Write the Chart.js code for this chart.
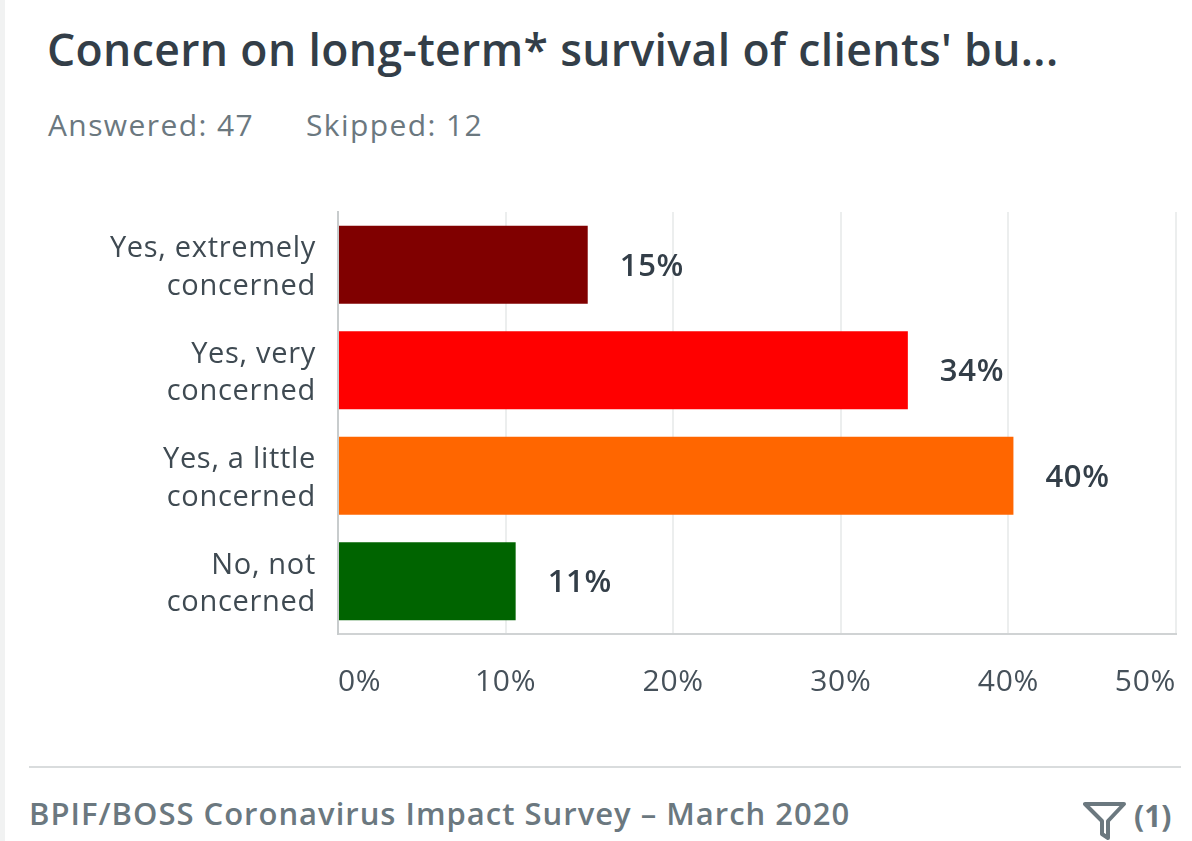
<!DOCTYPE html>
<html lang="en">
<head>
<meta charset="UTF-8">
<title>Concern on long-term survival</title>
<style>
    html, body { margin: 0; padding: 0; background: #fff; }
    body { width: 1192px; height: 841px; position: relative; overflow: hidden; font-family: 'Open Sans', 'Noto Sans', sans-serif; }
    .edge { position: absolute; left: 0; top: 0; width: 5px; height: 841px; background: #f1f2f2; }
    h1 { position: absolute; left: 47px; top: 21px; margin: 0; font-size: 44.5px; line-height: 56px; font-weight: 600; color: #333e48; white-space: nowrap; letter-spacing: 0.37px; }
    .meta { position: absolute; top: 105px; font-size: 30px; line-height: 40px; color: #6b787f; white-space: nowrap; letter-spacing: 1.4px; }
    .rule { position: absolute; left: 29px; top: 766px; width: 1152px; height: 2px; background: #d9dcdd; }
    .foot { position: absolute; left: 29px; top: 792px; font-size: 31px; line-height: 42px; font-weight: 600; color: #6b787f; white-space: nowrap; letter-spacing: 1px; }
    .filter { position: absolute; left: 1134px; top: 796px; font-size: 30px; line-height: 40px; font-weight: 700; color: #6b787f; }
    svg { position: absolute; left: 1083px; top: 801px; }
    .wrap { position: absolute; left: 0; top: 210px; width: 1192px; height: 514px; }
</style>
<script src="https://cdn.jsdelivr.net/npm/chart.js"></script>
</head>
<body>
<div class="edge"></div>
<h1>Concern on long-term* survival of clients' bu...</h1>
<div class="meta" style="left:48px">Answered: 47</div>
<div class="meta" style="left:306px">Skipped: 12</div>
<div class="wrap"><canvas id="chart" width="1192" height="514"></canvas></div>
<div class="rule"></div>
<div class="foot">BPIF/BOSS Coronavirus Impact Survey – March 2020</div>
<svg width="44" height="39" viewBox="0 0 44 39"><path d="M2 3 H41 L25 20 V37 L19 33 V20 Z" fill="none" stroke="#6b787f" stroke-width="4" stroke-linejoin="round"/></svg>
<div class="filter">(1)</div>
<script>
// values
const categories = [['Yes, extremely', 'concerned'], ['Yes, very', 'concerned'], ['Yes, a little', 'concerned'], ['No, not', 'concerned']];
const percents = [14.9, 34.0, 40.3, 10.6];
const percentLabels = ['15%', '34%', '40%', '11%'];
const barColors = ['#800000', '#ff0000', '#ff6600', '#006400'];
const tickValues = [0, 10, 20, 30, 40, 50];

// draws the % next to each bar
const barLabels = {
    id: 'barLabels',
    beforeDraw(chart) {
        chart.ctx.letterSpacing = '0.7px';
    },
    afterDatasetsDraw(chart) {
        const ctx = chart.ctx;
        ctx.save();
        ctx.font = "600 31px 'Open Sans'";
        ctx.fillStyle = '#333e48';
        ctx.textBaseline = 'middle';
        chart.getDatasetMeta(0).data.forEach((bar, i) => {
            ctx.fillText(percentLabels[i], bar.x + 32, bar.y + 2);
        });
        ctx.restore();
    }
};

new Chart(document.getElementById('chart'), {
    type: 'bar',
    data: {
        labels: categories,
        datasets: [{
            data: percents,
            backgroundColor: barColors,
            barPercentage: 0.74,
            categoryPercentage: 1
        }]
    },
    options: {
        indexAxis: 'y',
        responsive: false,
        animation: false,
        layout: { padding: { left: 0, right: 16, top: 2, bottom: 0 } },
        plugins: { legend: { display: false }, tooltip: { enabled: false } },
        scales: {
            x: {
                min: 0,
                max: 50,
                afterBuildTicks(axis) { axis.ticks = tickValues.map(v => ({ value: v })); },
                // no room reserved for the end labels, they sit inside the plot width
                afterFit(axis) { axis.height = 90; axis.paddingLeft = 0; axis.paddingRight = 0; },
                grid: { color: '#eceeee', lineWidth: 2, drawTicks: false },
                border: { color: '#d0d3d4', width: 2 },
                ticks: {
                    maxRotation: 0,
                    align: 'inner',
                    padding: 30,
                    color: '#46515a',
                    font: { family: 'Open Sans', size: 30 },
                    callback: v => v + '%'
                }
            },
            y: {
                afterFit(axis) { axis.width = 338; axis.paddingTop = 0; axis.paddingBottom = 0; },
                grid: { display: false, drawTicks: false },
                border: { color: '#c8cccd', width: 2 },
                ticks: {
                    padding: 22,
                    labelOffset: 3,
                    color: '#3f4a52',
                    font: { family: 'Open Sans', size: 29, lineHeight: 1.29 }
                }
            }
        }
    },
    plugins: [barLabels]
});
</script>
</body>
</html>
